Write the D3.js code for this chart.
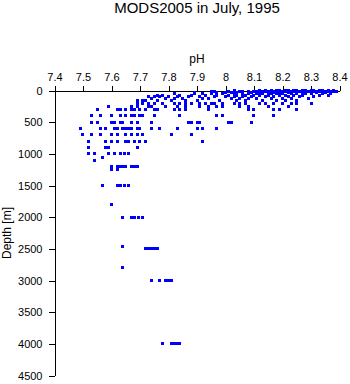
<!DOCTYPE html>
<html>
<head>
<meta charset="utf-8">
<script src="https://cdn.jsdelivr.net/npm/d3@7"></script>
<style>
  body { margin: 0; background: #fff; }
  svg { font-family: "Liberation Sans", Arial, sans-serif; }
</style>
</head>
<body>
<div id="chart"></div>
<script>
// standard depths of the casts (m)
const depthLevels = [
  0, 10, 20, 30, 50, 75, 100, 125, 150, 200, 250, 300, 400, 500, 600, 700,
  800, 900, 1000, 1050, 1100, 1200, 1250, 1500, 1800, 2000, 2470, 2500,
  2800, 3000, 4000,
];

// pH values read at each depth (same order as depthLevels)
const phAtLevel = [
  [8.03, 8.12, 8.14, 8.16, 8.18, 8.19, 8.21, 8.22, 8.24, 8.25, 8.27, 8.28, 8.3, 8.31, 8.33, 8.34, 8.36, 8.38],
  [8.06, 8.1, 8.13, 8.15, 8.17, 8.2, 8.22, 8.23, 8.26, 8.28, 8.29, 8.31, 8.32, 8.35, 8.37, 8.39],
  [7.95, 7.96, 8.01, 8.05, 8.08, 8.11, 8.14, 8.16, 8.18, 8.2, 8.21, 8.24, 8.26, 8.29, 8.31, 8.33, 8.36, 8.38],
  [7.89, 7.97, 8.0, 8.02, 8.04, 8.06, 8.09, 8.12, 8.15, 8.17, 8.19, 8.22, 8.25, 8.27, 8.3, 8.32, 8.35, 8.37],
  [7.82, 7.89, 7.92, 7.95, 7.99, 8.03, 8.06, 8.08, 8.11, 8.13, 8.16, 8.18, 8.2, 8.23, 8.25, 8.28, 8.3, 8.34, 8.37],
  [7.76, 7.78, 7.84, 7.88, 7.93, 7.97, 8.01, 8.04, 8.07, 8.1, 8.12, 8.15, 8.19, 8.21, 8.24, 8.27, 8.33, 8.36],
  [7.73, 7.75, 7.77, 7.8, 7.83, 7.87, 7.91, 7.96, 8.0, 8.03, 8.06, 8.09, 8.14, 8.17, 8.22, 8.26, 8.31],
  [7.74, 7.79, 7.82, 7.85, 7.92, 7.94, 8.02, 8.05, 8.08, 8.11, 8.16, 8.2, 8.23, 8.29],
  [7.69, 7.71, 7.72, 7.76, 7.81, 7.86, 7.9, 7.98, 8.04, 8.07, 8.13, 8.18, 8.21, 8.25],
  [7.69, 7.71, 7.73, 7.75, 7.78, 7.82, 7.84, 7.86, 7.88, 7.91, 7.93, 7.95, 7.96, 7.99, 8.03, 8.05, 8.07, 8.12, 8.14, 8.17, 8.2, 8.23, 8.25, 8.3],
  [7.59, 7.67, 7.69, 7.73, 7.74, 7.79, 7.83, 7.86, 7.91, 7.94, 7.97, 7.99, 8.05, 8.08, 8.15, 8.22],
  [7.55, 7.62, 7.63, 7.65, 7.67, 7.68, 7.7, 7.72, 7.75, 7.76, 7.82, 7.84, 7.86, 7.94, 8.08, 8.1, 8.17, 8.19, 8.25],
  [7.53, 7.56, 7.6, 7.63, 7.65, 7.67, 7.68, 7.7, 7.71, 7.75, 7.84, 7.97, 7.99, 8.1, 8.17],
  [7.53, 7.55, 7.6, 7.61, 7.63, 7.64, 7.67, 7.69, 7.74, 7.87, 7.88, 7.9, 7.91, 8.01, 8.02, 8.09],
  [7.49, 7.56, 7.58, 7.61, 7.62, 7.64, 7.65, 7.66, 7.67, 7.69, 7.7, 7.74, 7.77, 7.83, 7.9, 7.92, 7.97],
  [7.5, 7.53, 7.56, 7.6, 7.62, 7.65, 7.67, 7.69, 7.71, 7.81, 7.88],
  [7.52, 7.58, 7.6, 7.62, 7.65, 7.66, 7.68, 7.7, 7.72, 7.92],
  [7.52, 7.58, 7.59, 7.69],
  [7.52, 7.54, 7.59, 7.61, 7.63, 7.645, 7.66],
  [7.57],
  [7.54],
  [7.6, 7.62, 7.63, 7.64, 7.65, 7.67, 7.68, 7.69],
  [7.6, 7.62],
  [7.57, 7.62, 7.63, 7.645, 7.66],
  [7.6],
  [7.64, 7.67, 7.68, 7.695, 7.71],
  [7.64],
  [7.72, 7.73, 7.74, 7.75, 7.76],
  [7.64],
  [7.74, 7.77, 7.79, 7.8, 7.81],
  [7.78, 7.81, 7.82, 7.83, 7.84],
];

const phTicks = [7.4, 7.5, 7.6, 7.7, 7.8, 7.9, 8, 8.1, 8.2, 8.3, 8.4];
const depthTicks = [0, 500, 1000, 1500, 2000, 2500, 3000, 3500, 4000, 4500];

const width = 350,
  height = 384;

const points = [];
depthLevels.forEach((depth, i) => {
  phAtLevel[i].forEach((ph) => points.push({ depth: depth, ph: ph }));
});

const svg = d3
  .select("#chart")
  .append("svg")
  .attr("width", width)
  .attr("height", height);

const x = d3.scaleLinear().domain([7.4, 8.4]).range([54, 339]);
const y = d3.scaleLinear().domain([0, 4500]).range([90, 375]);

// title
svg
  .append("text")
  .attr("x", 197)
  .attr("y", 13)
  .attr("text-anchor", "middle")
  .style("font-size", "15px")
  .text("MODS2005 in July, 1995");

// x axis on top
const xAxis = svg
  .append("g")
  .attr("transform", "translate(0.5,90.5)")
  .call(
    d3
      .axisTop(x)
      .tickValues(phTicks)
      .tickFormat((d) => String(d))
      .tickSize(5)
      .tickSizeOuter(0)
      .tickPadding(5)
  );

xAxis.selectAll("text").style("font-size", "11px").attr("fill", "#000");
xAxis.selectAll("line, path").attr("stroke", "#000").attr("shape-rendering", "crispEdges");

svg
  .append("text")
  .attr("x", 197)
  .attr("y", 63)
  .attr("text-anchor", "middle")
  .style("font-size", "12px")
  .text("pH");

// y axis
const yAxis = svg
  .append("g")
  .attr("transform", "translate(54.5,0.5)")
  .call(
    d3
      .axisLeft(y)
      .tickValues(depthTicks)
      .tickFormat((d) => String(d))
      .tickSize(6)
      .tickSizeOuter(0)
      .tickPadding(6)
  );

yAxis.selectAll("text").style("font-size", "11px").attr("fill", "#000");
yAxis.selectAll("line, path").attr("stroke", "#000").attr("shape-rendering", "crispEdges");

svg
  .append("text")
  .attr("transform", "translate(11,233) rotate(-90)")
  .attr("text-anchor", "middle")
  .style("font-size", "12px")
  .text("Depth [m]");

// data points as small squares
svg
  .append("g")
  .selectAll("rect")
  .data(points)
  .enter()
  .append("rect")
  .attr("x", (d) => Math.round(x(d.ph)) - 1)
  .attr("y", (d) => Math.round(y(d.depth)) - 1)
  .attr("width", 3)
  .attr("height", 3)
  .attr("fill", "#0000ff")
  .attr("shape-rendering", "crispEdges");
</script>
</body>
</html>
